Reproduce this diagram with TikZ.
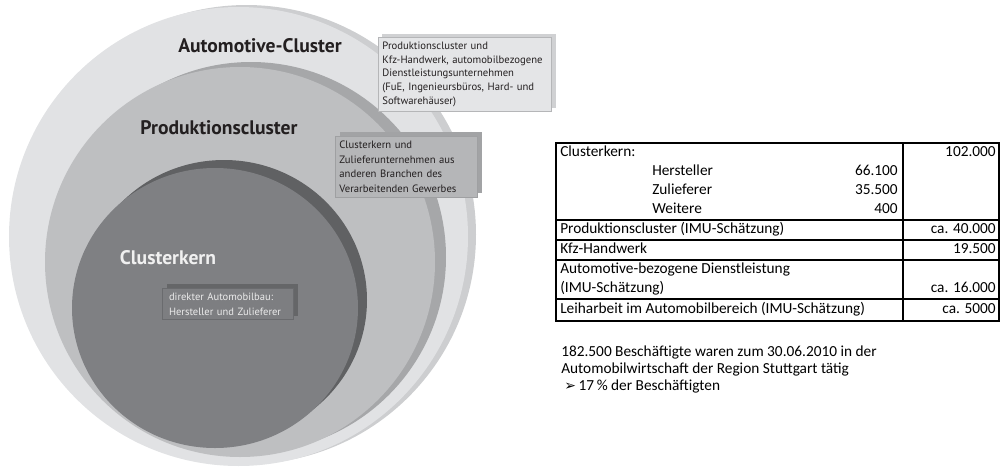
\documentclass[tikz,border=0pt]{standalone}
\usepackage{fontspec}
\setmainfont{Carlito}
\newfontfamily\diafont{PT Sans}
\newfontfamily\symfont{DejaVu Sans}
\usetikzlibrary{shadows}

\definecolor{outerfill}{HTML}{E1E2E4}
\definecolor{outershade}{HTML}{CDCED0}
\definecolor{midfill}{HTML}{BEBFC1}
\definecolor{midshade}{HTML}{A6A7A9}
\definecolor{corefill}{HTML}{7F8083}
\definecolor{coreshade}{HTML}{606163}
\definecolor{boxAfill}{HTML}{E4E5E7}
\definecolor{boxAline}{HTML}{B5B6B8}
\definecolor{boxAshade}{HTML}{D0D1D3}
\definecolor{boxBfill}{HTML}{B5B6B8}
\definecolor{boxBline}{HTML}{9FA0A2}
\definecolor{boxBshade}{HTML}{A2A3A5}
\definecolor{boxCfill}{HTML}{7D7E81}
\definecolor{boxCline}{HTML}{6A6B6E}
\definecolor{boxCshade}{HTML}{656668}
\definecolor{inkdark}{HTML}{231F20}

\tikzset{
  ringlabel/.style={font=\diafont\bfseries\fontsize{14.7}{17}\selectfont, text=inkdark, inner sep=0pt},
  infobox/.style={anchor=north west, align=left, inner xsep=3pt, inner ysep=3.3pt,
    font=\diafont\fontsize{8}{11}\selectfont, text=inkdark, line width=0.6pt},
  tabtext/.style={inner sep=0pt, font=\fontsize{11.5}{14}\selectfont},
  tabline/.style={line width=0.8pt, black}
}

\begin{document}
\begin{tikzpicture}[x=0.75pt,y=0.75pt,yscale=-1,xscale=1]
\useasboundingbox (0,0) rectangle (1001,469);

%Circles
\fill[outershade] (246.5,234.5) circle [radius=229.5];
\fill[outerfill] (238.5,236.5) circle [radius=229.5];
\fill[midshade] (251,257) circle [radius=195];
\fill[midfill] (240,262) circle [radius=195];
\fill[coreshade] (224,300) ellipse [x radius=143, y radius=140];
\fill[corefill] (215,308) ellipse [x radius=143, y radius=140];

% Ring labels
\draw (260,46) node [ringlabel] (acl) {Automotive-Cluster};
\draw (219,128) node [ringlabel] (pcl) {Produktionscluster};
\draw (168,258) node [ringlabel, text=white!94!black] (ckl) {Clusterkern};

% Info boxes
\draw (378,37) node [infobox, text width=124pt, font=\diafont\fontsize{8}{10.3}\selectfont,
  fill=boxAfill, draw=boxAline,
  general shadow={shadow xshift=3pt, shadow yshift=2.5pt, fill=boxAshade}] (boxa)
  {Produktionscluster und\\Kfz-Handwerk, automobilbezogene\\Dienstleistungsunternehmen\\(FuE, Ingenieursbüros, Hard- und\\Softwarehäuser)};
\draw (335,136) node [infobox, text width=100.5pt, fill=boxBfill, draw=boxBline,
  general shadow={shadow xshift=3.5pt, shadow yshift=3pt, fill=boxBshade}] (boxb)
  {Clusterkern und\\Zulieferunternehmen aus\\anderen Branchen des\\Verarbeitenden Gewerbes};
\draw (162,288) node [infobox, inner xsep=5pt, text width=88pt, fill=boxCfill, draw=boxCline,
  font=\diafont\fontsize{7.9}{11.25}\selectfont, text=white!92!black,
  general shadow={shadow xshift=3.5pt, shadow yshift=3pt, fill=boxCshade}] (boxc)
  {direkter Automobilbau:\\Hersteller und Zulieferer};

%Table lines
\draw[tabline] (556,143) rectangle (999,321);
\draw[tabline, line width=1.2pt] (903,143) -- (903,321);
\draw[tabline] (556,220) -- (999,220);
\draw[tabline] (556,240) -- (999,240);
\draw[tabline] (556,260) -- (999,260);
\draw[tabline] (556,299) -- (999,299);

% Table text
\draw (560,153) node [tabtext, anchor=mid west] (ck) {Clusterkern:};
\draw (996,153) node [tabtext, anchor=mid east] (vck) {102.000};
\draw (652,172) node [tabtext, anchor=mid west] (hst) {Hersteller};
\draw (898,172) node [tabtext, anchor=mid east] (vhst) {66.100};
\draw (652,191) node [tabtext, anchor=mid west] (zul) {Zulieferer};
\draw (898,191) node [tabtext, anchor=mid east] (vzul) {35.500};
\draw (652,210) node [tabtext, anchor=mid west] (wei) {Weitere};
\draw (898,210) node [tabtext, anchor=mid east] (vwei) {400};
\draw (560,230) node [tabtext, anchor=mid west] (prd) {Produktionscluster (IMU-Schätzung)};
\draw (996,230) node [tabtext, anchor=mid east] (vprd) {ca. 40.000};
\draw (560,250) node [tabtext, anchor=mid west] (kfz) {Kfz-Handwerk};
\draw (996,250) node [tabtext, anchor=mid east] (vkfz) {19.500};
\draw (560,270) node [tabtext, anchor=mid west] (dl) {Automotive-bezogene Dienstleistung};
\draw (560,289) node [tabtext, anchor=mid west] (dlb) {(IMU-Schätzung)};
\draw (996,289) node [tabtext, anchor=mid east] (vdl) {ca. 16.000};
\draw (560,310) node [tabtext, anchor=mid west] (lh) {Leiharbeit im Automobilbereich (IMU-Schätzung)};
\draw (996,310) node [tabtext, anchor=mid east] (vlh) {ca. 5000};

% Summary text
\draw (561,353) node [tabtext, anchor=mid west] (sum) {182.500 Beschäftigte waren zum 30.06.2010 in der};
\draw (561,370) node [tabtext, anchor=mid west] (suma) {Automobilwirtschaft der Region Stuttgart tätig};
\draw (564,387) node [tabtext, anchor=mid west] (pct) {{\symfont\fontsize{10.5}{10}\selectfont ➢}\hspace{2pt}17\,\% der Beschäftigten};

\end{tikzpicture}
\end{document}
